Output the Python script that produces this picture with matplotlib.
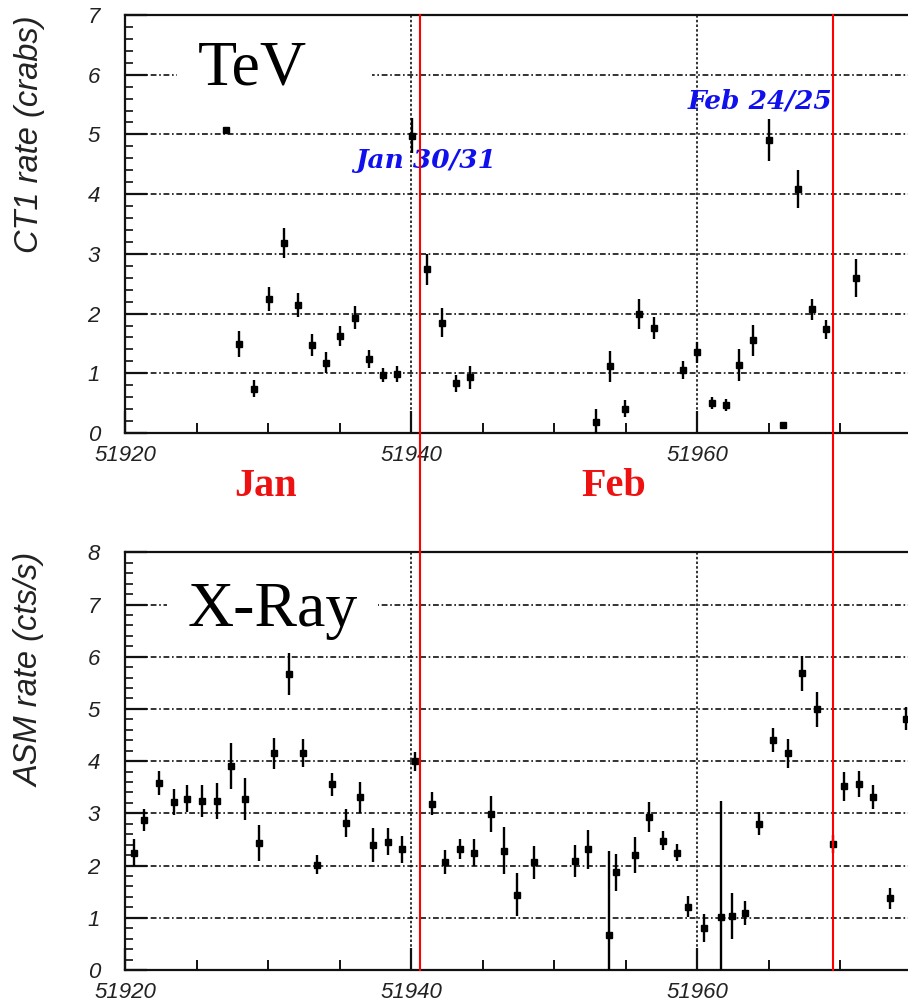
import matplotlib
matplotlib.use("Agg")
import matplotlib.pyplot as plt
from matplotlib.lines import Line2D
from matplotlib.patches import Rectangle
from matplotlib.ticker import MultipleLocator, FixedLocator, FormatStrFormatter
from matplotlib.transforms import blended_transform_factory

plt.rcParams['font.family'] = ['Liberation Sans', 'DejaVu Sans']

# --- TeV light curve (CT1) ---
tev_mjd = [51927.06, 51928.00, 51929.04, 51930.09, 51931.12, 51932.07, 51933.05,
           51934.06, 51935.03, 51936.06, 51937.04, 51938.06, 51939.04, 51940.09,
           51941.10, 51942.15, 51943.15, 51944.13, 51952.94, 51953.92, 51954.97,
           51955.94, 51956.99, 51959.04, 51960.02, 51961.07, 51962.03, 51962.96,
           51963.94, 51965.06, 51966.04, 51967.04, 51968.02, 51969.02, 51971.10]
tev_rate = [5.08, 1.49, 0.74, 2.24, 3.18, 2.14, 1.47, 1.18, 1.63, 1.93, 1.24, 0.97,
            0.99, 4.98, 2.74, 1.85, 0.83, 0.93, 0.19, 1.12, 0.41, 1.99, 1.76, 1.06,
            1.35, 0.51, 0.47, 1.14, 1.55, 4.91, 0.13, 4.09, 2.07, 1.74, 2.59]
tev_err = [0.03, 0.21, 0.14, 0.20, 0.25, 0.20, 0.18, 0.17, 0.17, 0.19, 0.15, 0.12,
           0.13, 0.29, 0.26, 0.24, 0.14, 0.20, 0.22, 0.26, 0.15, 0.25, 0.19, 0.15,
           0.17, 0.10, 0.10, 0.27, 0.26, 0.35, 0.03, 0.32, 0.18, 0.16, 0.32]

# --- X-ray light curve (RXTE ASM) ---
asm_mjd = [51920.63, 51921.33, 51922.36, 51923.43, 51924.36, 51925.36, 51926.41,
           51927.41, 51928.39, 51929.39, 51930.44, 51931.49, 51932.47, 51933.40,
           51934.45, 51935.45, 51936.43, 51937.36, 51938.41, 51939.35, 51940.28,
           51941.45, 51942.38, 51943.43, 51944.41, 51945.59, 51946.53, 51947.44,
           51948.60, 51951.47, 51952.35, 51953.85, 51954.31, 51955.66, 51956.64,
           51957.64, 51958.58, 51959.39, 51960.49, 51961.68, 51962.47, 51963.36,
           51964.36, 51965.34, 51966.39, 51967.32, 51968.37, 51969.53, 51970.28,
           51971.35, 51972.29, 51973.50, 51974.59]
asm_rate = [2.25, 2.87, 3.59, 3.21, 3.28, 3.24, 3.24, 3.91, 3.28, 2.43, 4.15, 5.67,
            4.15, 2.02, 3.56, 2.81, 3.31, 2.39, 2.46, 2.31, 4.00, 3.18, 2.06, 2.31,
            2.25, 2.99, 2.28, 1.44, 2.06, 2.09, 2.31, 0.67, 1.87, 2.20, 2.93, 2.48,
            2.25, 1.21, 0.81, 1.02, 1.03, 1.09, 2.80, 4.41, 4.15, 5.68, 4.99, 2.41,
            3.52, 3.56, 3.31, 1.37, 4.81]
asm_err = [0.26, 0.21, 0.23, 0.25, 0.26, 0.31, 0.34, 0.44, 0.40, 0.34, 0.30, 0.40,
           0.27, 0.19, 0.22, 0.27, 0.30, 0.33, 0.26, 0.26, 0.18, 0.22, 0.23, 0.19,
           0.26, 0.35, 0.45, 0.41, 0.31, 0.30, 0.38, 1.61, 0.36, 0.34, 0.29, 0.18,
           0.16, 0.20, 0.27, 2.22, 0.44, 0.23, 0.22, 0.23, 0.28, 0.34, 0.34, 0.17,
           0.28, 0.25, 0.23, 0.21, 0.22]

month_boundaries = [51940.63, 51969.50]
flare_nights = [("Jan 30/31", 51941.05, 4.57), ("Feb 24/25", 51964.4, 5.56)]
month_labels = [("Jan", 51929.8), ("Feb", 51954.2)]

X_MIN, X_MAX = 51920, 51976

W, H = 908, 1001
fig = plt.figure(figsize=(W / 100, H / 100), dpi=100)
ax_w = 800.8 / W
ax1 = fig.add_axes([125 / W, 1 - 433 / H, ax_w, 418 / H])
ax2 = fig.add_axes([125 / W, 1 - 970 / H, ax_w, 417.7 / H])

tick_font = dict(family='Liberation Sans', style='italic', size=16)


def style_axes(ax, ymax):
    ax.set_xlim(X_MIN, X_MAX)
    ax.set_ylim(0, ymax)
    ax.set_axisbelow(True)
    for side in ('left', 'bottom', 'top', 'right'):
        ax.spines[side].set_linewidth(1.6)
        ax.spines[side].set_color('#111111')
    ax.xaxis.set_major_locator(FixedLocator([51920, 51940, 51960]))
    ax.xaxis.set_minor_locator(MultipleLocator(5))
    ax.xaxis.set_major_formatter(FormatStrFormatter('%d'))
    ax.yaxis.set_major_locator(MultipleLocator(1))
    ax.yaxis.set_minor_locator(MultipleLocator(0.2))
    ax.tick_params(which='both', direction='in', top=False, right=False,
                   colors='#111111')
    ax.tick_params(axis='y', which='major', length=16, width=1.6, pad=18)
    ax.tick_params(axis='y', which='minor', length=6, width=1.2)
    ax.tick_params(axis='x', which='major', length=16, width=1.6, pad=8.5)
    ax.tick_params(axis='x', which='minor', length=7, width=1.4)
    for lab in ax.get_xticklabels() + ax.get_yticklabels():
        lab.set_fontproperties(tick_font)
        lab.set_color('#222222')
    ax.grid(axis='y', which='major', color='#111111', lw=1.2,
            linestyle=(0, (3.5, 1.6, 1.0, 1.6)))
    ax.grid(axis='x', which='major', color='#111111', lw=1.2,
            linestyle=(0, (1.5, 1.3)))


style_axes(ax1, 7)
style_axes(ax2, 8)

ax1.errorbar(tev_mjd, tev_rate, yerr=tev_err, fmt='s', ms=5, color='black',
             ecolor='black', elinewidth=1.7, capsize=0, zorder=3)
ax2.errorbar(asm_mjd, asm_rate, yerr=asm_err, fmt='s', ms=5, color='black',
             ecolor='black', elinewidth=1.7, capsize=0, zorder=3)

# white panels behind the band titles
ax1.add_patch(Rectangle((51923.64, 5.5), 13.63, 1.4, facecolor='white',
                        edgecolor='none', zorder=1))
ax2.add_patch(Rectangle((51922.94, 6.3), 14.75, 1.5, facecolor='white',
                        edgecolor='none', zorder=1))
ax1.text(51928.9, 5.83, "TeV", family='Liberation Serif', fontsize=46,
         ha='center', va='baseline', zorder=2)
ax2.text(51930.35, 6.58, "X-Ray", family='Liberation Serif', fontsize=46,
         ha='center', va='baseline', zorder=2)

for label, x, y in flare_nights:
    ax1.text(x, y, label, family='DejaVu Serif', fontsize=19,
             fontweight='bold', style='italic', color='#1010ee',
             ha='center', va='center', zorder=4)

for label, x in month_labels:
    ax1.text(x, -0.9, label, family='Liberation Serif', fontsize=29,
             fontweight='bold', color='#ee1111', ha='center', va='center',
             clip_on=False)

# month boundaries spanning both panels
trans = blended_transform_factory(ax1.transData, fig.transFigure)
for xb in month_boundaries:
    fig.add_artist(Line2D([xb, xb], [1 - 970 / H, 1 - 15 / H], transform=trans,
                          color='#ff0000', lw=1.5, zorder=5))

fig.text(30 / W, 1 - 15 / H, "CT1 rate (crabs)", rotation=90, ha='center',
         va='top', fontsize=23.5, style='italic', color='#222222')
fig.text(30 / W, 1 - 553 / H, "ASM rate (cts/s)", rotation=90, ha='center',
         va='top', fontsize=23.5, style='italic', color='#222222')

fig.savefig("out.png", dpi=100)
